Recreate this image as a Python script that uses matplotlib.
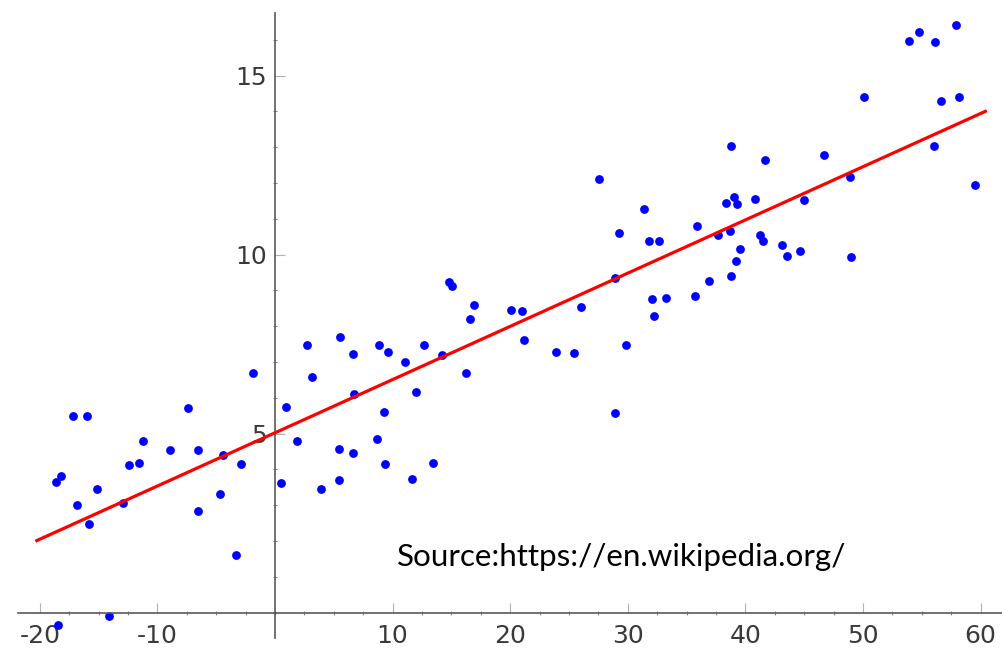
import matplotlib
matplotlib.use('Agg')
from matplotlib import pyplot as plt
from matplotlib.ticker import FixedLocator, FixedFormatter

# scatter points
x_vals = [2.69, 5.52, 6.65, 8.84, 9.63, 11.05, 12.66, 14.16, -1.84, 3.12,
          16.20, -7.37, -17.19, -16.00, 0.93, 6.71, 11.95, 9.26, -11.24, -8.92,
          -6.57, -4.44, -2.91, -12.38, -11.53, 1.89, 5.44, 6.65, 8.64, 9.35,
          13.45, -18.18, -18.61, -15.10, 0.51, 3.91, 5.44, 11.61, -16.85, -12.89,
          -4.67, -6.57, -15.78, -3.31, -14.10, -18.41, 27.53, 31.38, 29.23, 31.78,
          32.65, 35.91, 28.95, 14.81, 15.01, 16.91, 16.57, 20.11, 21.01, 26.00,
          32.06, 33.22, 35.68, 32.20, 21.18, 23.87, 25.40, 29.82, 28.89, 57.92,
          54.72, 53.95, 56.13, 50.04, 56.64, 58.20, 56.02, 59.53, 38.74, 41.69,
          46.67, 48.85, 38.32, 39.02, 39.28, 40.78, 44.95, 38.66, 37.66, 41.21,
          41.49, 39.57, 43.10, 43.53, 44.61, 49.00, 39.17, 38.74, 36.90]
y_vals = [7.46, 7.69, 7.21, 7.46, 7.27, 6.99, 7.46, 7.18, 6.70, 6.59,
          6.70, 5.72, 5.50, 5.48, 5.75, 6.11, 6.15, 5.59, 4.80, 4.54,
          4.54, 4.41, 4.15, 4.13, 4.17, 4.78, 4.57, 4.46, 4.85, 4.15,
          4.17, 3.81, 3.64, 3.44, 3.62, 3.44, 3.69, 3.73, 3.01, 3.05,
          3.32, 2.83, 2.46, 1.61, -0.10, -0.34, 12.11, 11.26, 10.61, 10.37,
          10.37, 10.81, 9.35, 9.23, 9.11, 8.60, 8.20, 8.44, 8.42, 8.53,
          8.76, 8.79, 8.84, 8.28, 7.60, 7.27, 7.24, 7.46, 5.58, 16.40,
          16.23, 15.96, 15.95, 14.41, 14.28, 14.39, 13.02, 11.95, 13.02, 12.63,
          12.77, 12.16, 11.43, 11.60, 11.40, 11.56, 11.53, 10.67, 10.55, 10.55,
          10.39, 10.16, 10.28, 9.95, 10.09, 9.94, 9.81, 9.39, 9.25]

# regression line end points
fit_x = [-20.25, 60.4]
fit_y = [2.01, 14.0]

x_ticks = [-20, -10, 10, 20, 30, 40, 50, 60]
x_labels = ['-20', '-10', '10', '20', '30', '40', '50', '60']
y_ticks = [5, 10, 15]
y_labels = ['5', '10', '15']

source = 'Source:https://en.wikipedia.org/'

fig = plt.figure(figsize=(10.03, 6.53), dpi=100)
ax = fig.add_axes([0, 0, 1, 1])
ax.set_xlim(-23.38, 61.9)
ax.set_ylim(-1.13, 17.11)

ax.scatter(x_vals, y_vals, s=40, color='#0000ff', linewidths=0, zorder=2)
ax.plot(fit_x, fit_y, color='#ff0000', lw=2.3, zorder=3)

# axes crossing at the origin
for side in ['top', 'right']:
    ax.spines[side].set_visible(False)
ax.spines['left'].set_position(('data', 0))
ax.spines['bottom'].set_position(('data', 0))
ax.spines['left'].set_bounds(-0.7, 16.75)
ax.spines['bottom'].set_bounds(-21.85, 61.9)
for side in ['left', 'bottom']:
    ax.spines[side].set_color('#5a5a5a')
    ax.spines[side].set_linewidth(1.2)

ax.xaxis.set_major_locator(FixedLocator(x_ticks))
ax.xaxis.set_major_formatter(FixedFormatter(x_labels))
ax.xaxis.set_minor_locator(FixedLocator([k * 2.5 for k in range(-8, 25)]))
ax.yaxis.set_major_locator(FixedLocator(y_ticks))
ax.yaxis.set_major_formatter(FixedFormatter(y_labels))
ax.yaxis.set_minor_locator(FixedLocator(list(range(0, 17))))

ax.tick_params(which='major', direction='in', length=7, width=0.8,
               color='#b0b0b0', labelsize=18, labelcolor='#3a3a3a')
ax.tick_params(axis='x', which='major', pad=8)
ax.tick_params(axis='y', which='major', pad=6)
ax.tick_params(which='minor', direction='inout', length=3, width=0.8,
               color='#8a8a8a')

fig.text(397 / 1003, 1 - 566 / 653, source, fontsize=22.6, family='Lato',
         va='baseline', ha='left', color='black')

fig.savefig('out.png', dpi=100)
